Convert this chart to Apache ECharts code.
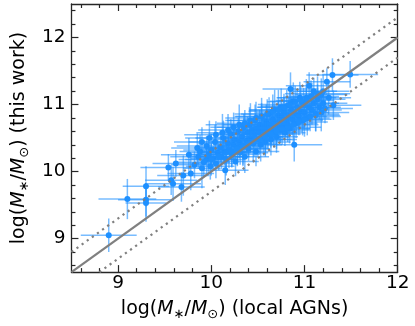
<!DOCTYPE html>
<html>
<head>
<meta charset="utf-8">
<script src="https://cdn.jsdelivr.net/npm/echarts@6/dist/echarts.min.js"></script>
<style>html,body{margin:0;padding:0;background:#fff}#c{width:415px;height:326px}</style>
</head>
<body>
<div id="c"></div>
<script>
// ---- data ----
const xs = [
  8.90, 9.10, 9.30, 9.30, 9.30, 9.57, 9.59, 9.68, 9.54, 9.70, 9.62, 9.78, 9.76, 9.85, 9.90, 9.95, 10.15, 10.89, 11.49, 11.30, 11.24, 11.31, 10.85, 11.10, 11.05,
  9.82, 9.86, 9.88, 9.92, 9.95, 9.97, 9.99, 10.00, 10.02, 10.04, 10.05, 10.07,
  10.10, 10.11, 10.13, 10.14, 10.16, 10.18, 10.19, 10.21, 10.22, 10.24, 10.25, 10.26, 10.28, 10.29, 10.30, 10.31, 10.33, 10.34, 10.35, 10.36,
  10.38, 10.39, 10.40, 10.41, 10.42, 10.44, 10.45, 10.46, 10.47, 10.48, 10.49, 10.50, 10.51, 10.52, 10.53, 10.54, 10.55, 10.56, 10.57, 10.58, 10.59, 10.60,
  10.61, 10.62, 10.63, 10.64, 10.65, 10.66, 10.67, 10.68, 10.69, 10.70, 10.71, 10.72, 10.73, 10.74, 10.75, 10.76, 10.77, 10.78, 10.79, 10.80,
  10.81, 10.82, 10.83, 10.84, 10.86, 10.87, 10.88, 10.90, 10.91, 10.92, 10.94, 10.95, 10.96, 10.98, 10.99,
  11.00, 11.02, 11.03, 11.05, 11.07, 11.08, 11.10, 11.12, 11.14, 11.16, 11.18, 11.20, 11.22, 11.26,
  9.90, 9.98, 10.05, 10.12, 10.18, 10.24, 10.30, 10.36, 10.42, 10.48, 10.54, 10.60, 10.66, 10.72, 10.78, 10.84, 10.90, 10.96, 11.02, 11.08, 11.14, 11.20,
  10.00, 10.08, 10.16, 10.22, 10.28, 10.34, 10.40, 10.46, 10.52, 10.58, 10.64, 10.70, 10.76, 10.82, 10.88, 10.94, 11.00, 11.06, 11.12, 11.18
];
const ys = [
  9.05, 9.59, 9.78, 9.58, 9.53, 9.87, 9.82, 9.77, 10.06, 9.94, 10.12, 9.97, 10.25, 10.35, 10.05, 10.18, 10.02, 10.40, 11.45, 11.44, 11.34, 10.99, 11.23, 11.20, 11.28,
  10.10, 10.22, 10.30, 10.14, 10.38, 10.25, 10.08, 10.32, 10.20, 10.44, 10.12, 10.28,
  10.36, 10.22, 10.50, 10.30, 10.18, 10.42, 10.33, 10.56, 10.26, 10.40, 10.48, 10.15, 10.36, 10.60, 10.44, 10.28, 10.52, 10.38, 10.66, 10.22,
  10.46, 10.58, 10.34, 10.70, 10.50, 10.62, 10.42, 10.55, 10.76, 10.30, 10.64, 10.48, 10.58, 10.70, 10.40, 10.82, 10.60, 10.52, 10.68, 10.44, 10.74, 10.62,
  10.56, 10.86, 10.70, 10.48, 10.64, 10.78, 10.58, 10.92, 10.72, 10.52, 10.66, 10.84, 10.74, 10.62, 10.96, 10.80, 10.68, 10.88, 10.58, 10.76,
  10.98, 10.70, 10.84, 10.64, 10.92, 10.78, 11.05, 10.86, 10.72, 10.96, 10.82, 11.10, 10.90, 10.76, 11.00,
  10.88, 11.06, 10.80, 10.96, 11.12, 10.92, 11.02, 10.86, 11.08, 10.96, 11.15, 11.02, 10.94, 11.10,
  10.44, 10.50, 10.55, 10.58, 10.62, 10.66, 10.70, 10.72, 10.76, 10.80, 10.82, 10.86, 10.90, 10.92, 10.96, 11.00, 11.04, 11.06, 11.10, 11.12, 11.16, 11.20,
  10.18, 10.22, 10.28, 10.30, 10.34, 10.38, 10.42, 10.46, 10.48, 10.52, 10.56, 10.60, 10.64, 10.66, 10.70, 10.74, 10.78, 10.82, 10.84, 10.88
];
const xErr = [
  0.30, 0.31, 0.25, 0.30, 0.22, 0.28, 0.30, 0.25, 0.30, 0.28, 0.25, 0.25, 0.30, 0.28, 0.20, 0.30, 0.25, 0.30, 0.30, 0.28, 0.25, 0.30, 0.30, 0.25, 0.25,
  0.25, 0.30, 0.22, 0.28, 0.32, 0.20, 0.26, 0.30, 0.24, 0.28, 0.22, 0.30,
  0.28, 0.22, 0.30, 0.25, 0.20, 0.32, 0.26, 0.24, 0.30, 0.22, 0.28, 0.25, 0.33, 0.20, 0.27, 0.30, 0.24, 0.22, 0.29, 0.26,
  0.25, 0.30, 0.22, 0.28, 0.33, 0.24, 0.20, 0.27, 0.30, 0.25, 0.22, 0.29, 0.26, 0.31, 0.23, 0.28, 0.25, 0.20, 0.30, 0.27, 0.24, 0.32,
  0.26, 0.30, 0.24, 0.28, 0.22, 0.32, 0.25, 0.27, 0.30, 0.23, 0.29, 0.25, 0.21, 0.31, 0.26, 0.28, 0.24, 0.30, 0.22, 0.27,
  0.28, 0.24, 0.30, 0.22, 0.27, 0.33, 0.25, 0.29, 0.23, 0.26, 0.30, 0.24, 0.28, 0.22, 0.27,
  0.26, 0.30, 0.24, 0.28, 0.22, 0.32, 0.27, 0.25, 0.30, 0.23, 0.28, 0.26, 0.30, 0.24,
  0.30, 0.26, 0.34, 0.28, 0.32, 0.25, 0.36, 0.30, 0.27, 0.33, 0.29, 0.35, 0.26, 0.31, 0.28, 0.34, 0.30, 0.27, 0.32, 0.29, 0.35, 0.28,
  0.28, 0.33, 0.26, 0.30, 0.35, 0.27, 0.31, 0.29, 0.34, 0.26, 0.32, 0.28, 0.30, 0.36, 0.27, 0.31, 0.29, 0.33, 0.26, 0.30
];
const yErr = [
  0.25, 0.30, 0.30, 0.25, 0.28, 0.22, 0.25, 0.22, 0.20, 0.30, 0.20, 0.25, 0.25, 0.22, 0.30, 0.22, 0.22, 0.25, 0.20, 0.25, 0.20, 0.22, 0.25, 0.20, 0.20,
  0.20, 0.18, 0.25, 0.22, 0.15, 0.28, 0.20, 0.24, 0.18, 0.26, 0.22, 0.20,
  0.22, 0.18, 0.26, 0.20, 0.24, 0.16, 0.28, 0.22, 0.20, 0.25, 0.18, 0.22, 0.26, 0.20, 0.24, 0.18, 0.22, 0.28, 0.20, 0.24,
  0.20, 0.24, 0.18, 0.26, 0.22, 0.20, 0.28, 0.16, 0.24, 0.22, 0.20, 0.26, 0.18, 0.22, 0.25, 0.20, 0.24, 0.28, 0.18, 0.22, 0.26, 0.20,
  0.22, 0.25, 0.20, 0.24, 0.18, 0.26, 0.22, 0.30, 0.20, 0.24, 0.16, 0.22, 0.26, 0.20, 0.28, 0.22, 0.18, 0.24, 0.20, 0.25,
  0.24, 0.20, 0.26, 0.22, 0.18, 0.24, 0.28, 0.20, 0.22, 0.26, 0.20, 0.24, 0.18, 0.22, 0.25,
  0.22, 0.20, 0.26, 0.18, 0.24, 0.22, 0.20, 0.26, 0.22, 0.18, 0.24, 0.20, 0.22, 0.25,
  0.22, 0.26, 0.20, 0.28, 0.24, 0.22, 0.30, 0.20, 0.26, 0.24, 0.28, 0.22, 0.25, 0.30, 0.20, 0.26, 0.24, 0.22, 0.28, 0.20, 0.26, 0.24,
  0.24, 0.20, 0.28, 0.22, 0.26, 0.30, 0.20, 0.24, 0.22, 0.28, 0.20, 0.26, 0.24, 0.22, 0.30, 0.20, 0.26, 0.22, 0.24, 0.28
];
const majorTicks = [9, 10, 11, 12];
const xMinorTicks = [8.6, 8.8, 9.2, 9.4, 9.6, 9.8, 10.2, 10.4, 10.6, 10.8, 11.2, 11.4, 11.6, 11.8];
const yMinorTicks = [8.6, 8.8, 9.2, 9.4, 9.6, 9.8, 10.2, 10.4, 10.6, 10.8, 11.2, 11.4, 11.6, 11.8, 12.2, 12.4];
const oneToOne = [[8.5, 8.5], [12, 12]];
const upperBand = [[8.5, 8.8], [12, 12.3]];
const lowerBand = [[8.8, 8.5], [12, 11.7]];

// ---- chart ----
const FONT = 'DejaVu Sans';
const FRAME = '#262626';
const TICK_FS = 18.5;
const TITLE_FS = 19;
const points = xs.map((x, i) => [x, ys[i], xErr[i], yErr[i]]);

function axisBase(pos, ticks, len, showLine, max) {
  return {
    type: 'value', position: pos, min: 8.5, max: max,
    axisLine: { show: showLine, onZero: false, lineStyle: { color: FRAME, width: 1.3 } },
    axisTick: { show: true, inside: true, length: len, customValues: ticks, lineStyle: { color: FRAME, width: 1.2 } },
    axisLabel: { show: false },
    splitLine: { show: false }
  };
}
const rich = {
  i: { fontStyle: 'italic', fontSize: TITLE_FS, fontFamily: FONT, color: '#000' },
  s: { fontSize: 13, fontFamily: FONT, color: '#000', verticalAlign: 'bottom', lineHeight: 23 }
};

const xMajB = axisBase('bottom', majorTicks, 7, true, 12);
xMajB.axisLabel = { show: true, customValues: majorTicks, fontSize: TICK_FS, fontFamily: FONT, color: '#000', margin: 2 };
xMajB.name = 'log({i|M}{s|∗}/{i|M}{s|⊙}) (local AGNs)';
xMajB.nameLocation = 'middle';
xMajB.nameGap = 22;
xMajB.nameTextStyle = { fontSize: TITLE_FS, fontFamily: FONT, color: '#000', lineHeight: 23, rich: rich };
const xMinB = axisBase('bottom', xMinorTicks, 4, false, 12);
const xMajT = axisBase('top', majorTicks, 7, true, 12);
const xMinT = axisBase('top', xMinorTicks, 4, false, 12);

const yMajL = axisBase('left', majorTicks, 7, true, 12.5);
yMajL.axisLabel = { show: true, customValues: majorTicks, fontSize: TICK_FS, fontFamily: FONT, color: '#000', margin: 6 };
yMajL.name = 'log({i|M}{s|∗}/{i|M}{s|⊙}) (this work)';
yMajL.nameLocation = 'middle';
yMajL.nameGap = 35;
yMajL.nameRotate = 90;
yMajL.nameTextStyle = { fontSize: TITLE_FS, fontFamily: FONT, color: '#000', lineHeight: 23, rich: rich };
const yMinL = axisBase('left', yMinorTicks, 4, false, 12.5);
const yMajR = axisBase('right', majorTicks, 7, true, 12.5);
const yMinR = axisBase('right', yMinorTicks, 4, false, 12.5);

const chart = echarts.init(document.getElementById('c'), null, { renderer: 'canvas' });
chart.setOption({
  animation: false,
  backgroundColor: '#fff',
  grid: { left: 58.5, right: 17.3, top: 4, bottom: 52.5, containLabel: false },
  xAxis: [xMajB, xMinB, xMajT, xMinT],
  yAxis: [yMajL, yMinL, yMajR, yMinR],
  series: [
    {
      // each point: its error bars, then its marker (later points overlap earlier ones)
      type: 'custom', xAxisIndex: 0, yAxisIndex: 0, clip: true, z: 1,
      data: points,
      renderItem: function (params, api) {
        const x = api.value(0), y = api.value(1), ex = api.value(2), ey = api.value(3);
        const c = api.coord([x, y]);
        const l = api.coord([x - ex, y]), r = api.coord([x + ex, y]);
        const t = api.coord([x, y + ey]), b = api.coord([x, y - ey]);
        const st = { stroke: 'rgba(30,144,255,0.6)', lineWidth: 1.5 };
        return {
          type: 'group',
          children: [
            { type: 'line', shape: { x1: l[0], y1: l[1], x2: r[0], y2: r[1] }, style: st },
            { type: 'line', shape: { x1: t[0], y1: t[1], x2: b[0], y2: b[1] }, style: st },
            { type: 'circle', shape: { cx: c[0], cy: c[1], r: 3 }, style: { fill: '#1E90FF' } }
          ]
        };
      }
    },
    {
      type: 'line', xAxisIndex: 0, yAxisIndex: 0, z: 3, data: oneToOne, symbol: 'none',
      lineStyle: { color: '#808080', width: 2.2 }
    },
    {
      type: 'line', xAxisIndex: 0, yAxisIndex: 0, z: 3, data: upperBand, symbol: 'none',
      lineStyle: { color: '#808080', width: 2.2, type: [2.2, 4.1] }
    },
    {
      type: 'line', xAxisIndex: 0, yAxisIndex: 0, z: 3, data: lowerBand, symbol: 'none',
      lineStyle: { color: '#808080', width: 2.2, type: [2.2, 4.1] }
    }
  ]
});
</script>
</body>
</html>
